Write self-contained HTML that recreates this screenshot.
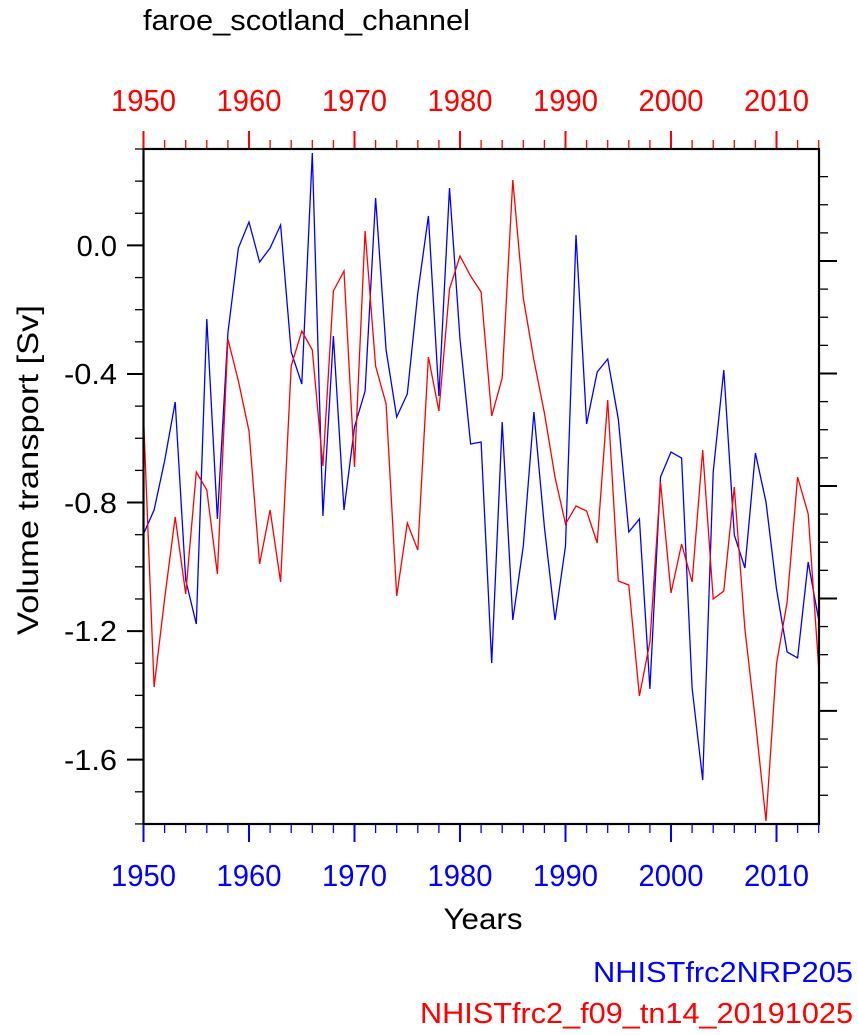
<!DOCTYPE html>
<html><head><meta charset="utf-8"><style>html,body{margin:0;padding:0;background:#fff}svg{display:block}text{font-family:"Liberation Sans",sans-serif}</style></head><body>
<svg id="s" width="858" height="1035" xmlns="http://www.w3.org/2000/svg">
<text x="143" y="30" font-size="29" textLength="327" lengthAdjust="spacingAndGlyphs">faroe_scotland_channel</text>
<g id="ticks"></g>
<polyline id="blue" fill="none" stroke="#0000ff" stroke-width="1.3"/>
<polyline id="red" fill="none" stroke="#ff0000" stroke-width="1.3"/>
<rect x="143.5" y="149" width="675.5" height="675" fill="none" stroke="#000" stroke-width="2.2"/>
<g font-size="29" fill="#000" text-anchor="end">
<text x="117" y="256">0.0</text>
<text x="117" y="384" textLength="53" lengthAdjust="spacingAndGlyphs">-0.4</text>
<text x="117" y="513" textLength="53" lengthAdjust="spacingAndGlyphs">-0.8</text>
<text x="117" y="641" textLength="53" lengthAdjust="spacingAndGlyphs">-1.2</text>
<text x="117" y="770" textLength="53" lengthAdjust="spacingAndGlyphs">-1.6</text>
</g>
<text transform="translate(38,470) rotate(-90)" font-size="30" text-anchor="middle" textLength="330" lengthAdjust="spacingAndGlyphs">Volume transport [Sv]</text>
<text x="483" y="929" font-size="30" text-anchor="middle" textLength="79" lengthAdjust="spacingAndGlyphs">Years</text>
<text x="853" y="982" font-size="29" fill="#0000ff" text-anchor="end" textLength="260" lengthAdjust="spacingAndGlyphs">NHISTfrc2NRP205</text>
<text x="853" y="1023" font-size="29" fill="#ff0000" text-anchor="end" textLength="433" lengthAdjust="spacingAndGlyphs">NHISTfrc2_f09_tn14_20191025</text>
</svg>
<script>
var X=function(i){return 143.5+10.55*i;};
var b=[534,510,461,402,580,624,319,519,333,248,222,262,248,225,352,384,153,516,336,510,427,391,198,350,417,394,293,216,396,188,339,444,442,663,422,620,546,412,527,620,546,235,424,372,359,419,532,519,689,477,452,458,688,780,472,370,535,568,453,502,589,652,658,562,620];
var r=[416,687,599,517,594,472,490,574,339,381,431,564,510,582,366,331,350,466,291,271,467,231,366,404,596,523,550,357,411,289,256,276,292,416,378,180,298,360,413,477,524,506,511,543,400,581,585,696,642,482,593,544,582,450,599,591,487,629,721,821,664,602,477,514,668];
function pts(a){return a.map(function(y,i){return X(i).toFixed(1)+","+y;}).join(" ");}
document.getElementById("blue").setAttribute("points",pts(b));
document.getElementById("red").setAttribute("points",pts(r));
var g="";
for(var i=0;i<=64;i+=2){var x=X(i),maj=(i%10==0);
g+='<line x1="'+x+'" y1="824" x2="'+x+'" y2="'+(maj?842:833)+'" stroke="#0000ff" stroke-width="'+(maj?2:1.3)+'"/>';
g+='<line x1="'+x+'" y1="149" x2="'+x+'" y2="'+(maj?131:140)+'" stroke="#ff0000" stroke-width="'+(maj?2:1.3)+'"/>';
if(maj){var yr=1950+i;
g+='<text x="'+x+'" y="886" font-size="31" fill="#0000ff" text-anchor="middle" textLength="65" lengthAdjust="spacingAndGlyphs">'+yr+'</text>';
g+='<text x="'+x+'" y="111" font-size="31" fill="#ff0000" text-anchor="middle" textLength="65" lengthAdjust="spacingAndGlyphs">'+yr+'</text>';}}
for(var k=0;k<=21;k++){var y=149+k*32.14;var v=Math.round((0.3-k*0.1)*10);var maj=(v%4==0);
g+='<line x1="143.5" y1="'+y+'" x2="'+(maj?127:135)+'" y2="'+y+'" stroke="#000" stroke-width="'+(maj?2:1.3)+'"/>';}
for(var k=-4;k<=24;k++){var y=261+k*28.12;if(y<150||y>823)continue;var maj=(k%4==0);
g+='<line x1="819" y1="'+y+'" x2="'+(maj?837:828)+'" y2="'+y+'" stroke="#000" stroke-width="'+(maj?2:1.3)+'"/>';}
document.getElementById("ticks").innerHTML=g;
</script>
</body></html>
